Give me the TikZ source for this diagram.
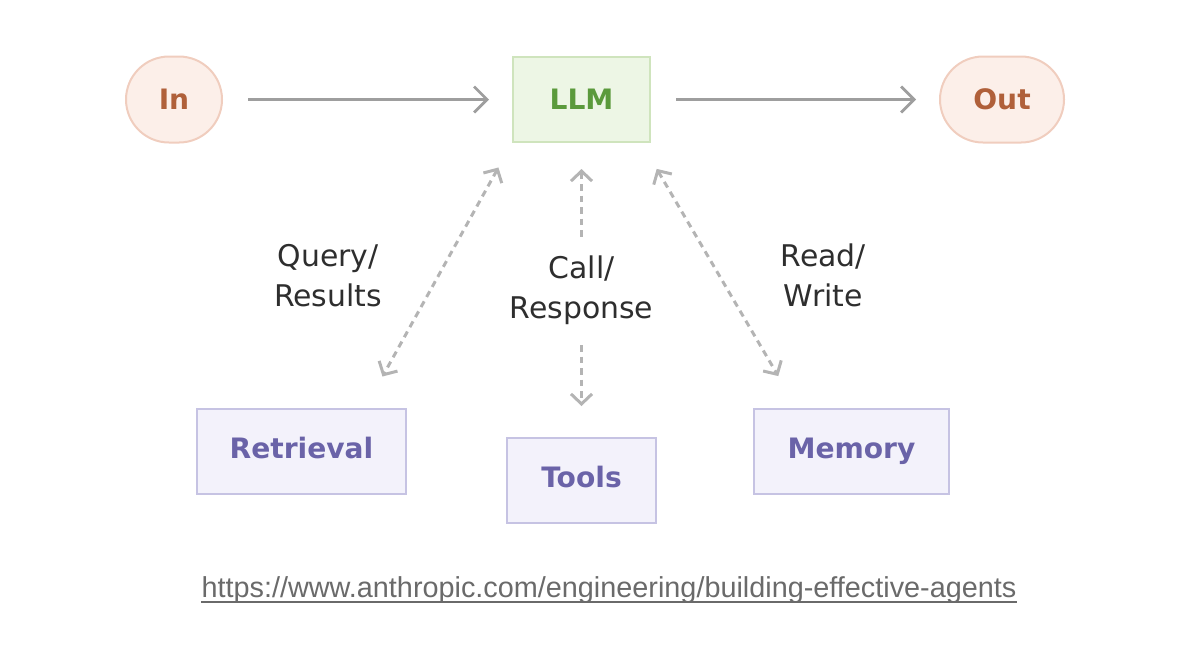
\documentclass[tikz,border=0pt]{standalone}
\usepackage{fontspec}
\setmainfont{DejaVu Sans}
\newfontfamily\urlfont{Liberation Sans}
\usetikzlibrary{arrows.meta,positioning,calc}
\definecolor{TermFill}{HTML}{FCEFE9}
\definecolor{TermDraw}{HTML}{F0CDBE}
\definecolor{TermText}{HTML}{B0603A}
\definecolor{LLMFill}{HTML}{EDF6E5}
\definecolor{LLMDraw}{HTML}{CFE4BD}
\definecolor{LLMText}{HTML}{5B9A3C}
\definecolor{AugFill}{HTML}{F3F2FB}
\definecolor{AugDraw}{HTML}{C6C3E3}
\definecolor{AugText}{HTML}{6A63A8}
\definecolor{FlowGray}{HTML}{9E9E9E}
\definecolor{DashGray}{HTML}{B4B4B4}
\definecolor{LabelInk}{HTML}{2E2E2E}
\definecolor{UrlGray}{HTML}{6A6A6A}

\begin{document}
\begin{tikzpicture}[
  term/.style={draw=TermDraw, line width=0.04cm, fill=TermFill, rounded corners=0.86cm,
    minimum height=1.72cm, inner sep=0pt, text=TermText, font=\fontsize{16}{19}\selectfont\bfseries},
  llm/.style={draw=LLMDraw, line width=0.04cm, fill=LLMFill, minimum width=2.74cm,
    minimum height=1.70cm, inner sep=0pt, text=LLMText, font=\fontsize{16}{19}\selectfont\bfseries},
  aug/.style={draw=AugDraw, line width=0.04cm, fill=AugFill, minimum height=1.70cm,
    inner sep=0pt, text height=1.0em, text depth=0.2em, text=AugText,
    font=\fontsize{16}{19}\selectfont\bfseries},
  lbl/.style={text=LabelInk, align=center, inner sep=0pt, font=\fontsize{17}{22.8}\selectfont},
  flow/.style={-{Straight Barb[length=0.26cm, width=0.52cm]}, line width=0.055cm, draw=FlowGray,
    shorten <=0.5cm, shorten >=0.46cm},
  link/.style={{Straight Barb[length=0.2cm, width=0.42cm]}-{Straight Barb[length=0.2cm, width=0.42cm]},
    line width=0.06cm, draw=DashGray, dash pattern=on 0.13cm off 0.1cm}
]
\useasboundingbox (0,0) rectangle (23.56,-13.12);

\node[llm] (llm) at (11.63,-1.99) {LLM};
\node[term, minimum width=1.92cm, left=5.78cm of llm] (in) {In};
\node[term, minimum width=2.48cm, right=5.76cm of llm] (out) {Out};

\node[aug, minimum width=2.98cm, below=5.88cm of llm] (tools) {Tools};
\node[aug, minimum width=4.18cm, below left=5.30cm and 2.10cm of llm.south west] (retrieval) {Retrieval};
\node[aug, minimum width=3.90cm, below right=5.30cm and 2.04cm of llm.south east] (memory) {Memory};

\node[text=UrlGray, inner sep=0pt, font=\urlfont\fontsize{16.4}{19}\selectfont,
  below=1.05cm of tools, xshift=0.55cm] (url) {https://www.anthropic.com/engineering/building-effective-agents};
\draw[UrlGray, line width=0.035cm] ([yshift=-0.09cm]url.base west) -- ([yshift=-0.09cm]url.base east);

\draw[flow] (in) -- (llm);
\draw[flow] (llm) -- (out);

\draw[link, shorten <=0.56cm, shorten >=0.72cm] (llm.south west) -- ([xshift=-0.84cm]retrieval.north east)
  node[lbl, midway, left=1.1cm] {Query/\\Results};
\draw[link, shorten <=0.6cm, shorten >=0.74cm] ([xshift=-0.19cm]llm.south east) -- ([xshift=0.88cm]memory.north west)
  node[lbl, midway, right=1.2cm] {Read/\\Write};
\draw[link, shorten <=0.52cm, shorten >=0.62cm] (llm) -- (tools)
  node[lbl, midway, fill=white, inner sep=0.3cm] {Call/\\Response};
\end{tikzpicture}
\end{document}
